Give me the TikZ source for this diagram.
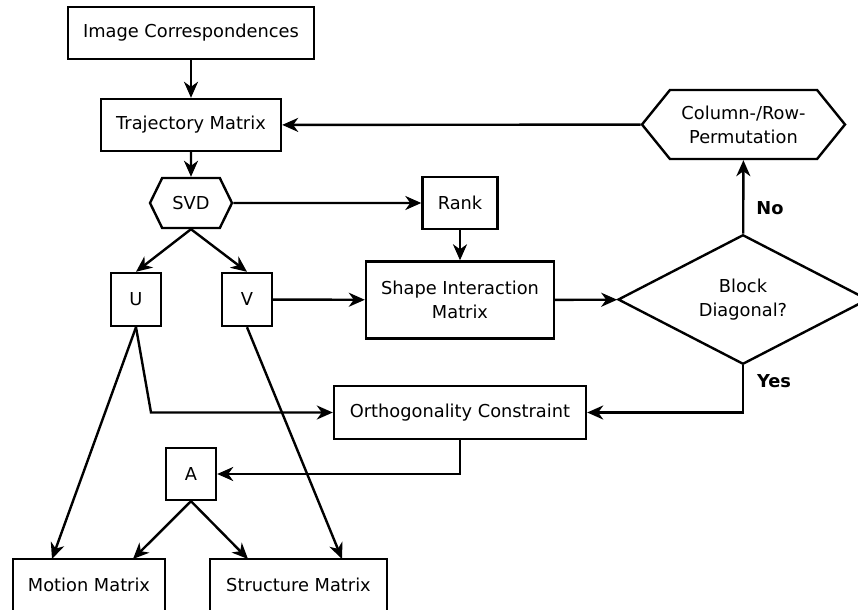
\documentclass[tikz,border=0pt]{standalone}
\usepackage{fontspec}
\setmainfont{DejaVu Sans}
\usetikzlibrary{shapes.geometric,shapes.symbols,arrows.meta}

\begin{document}
\begin{tikzpicture}[x=0.5pt,y=-0.5pt,
  font=\fontsize{8.9}{12}\selectfont,
  box/.style={draw,line width=1.2pt,inner sep=0pt,align=center},
  hexbox/.style={draw,line width=1.2pt,inner sep=0pt,align=center,signal,signal to=west and east},
  decision/.style={draw,line width=1.2pt,diamond,inner sep=0pt,align=center,minimum width=125pt,minimum height=61.5pt},
  flow/.style={line width=1.2pt,-{Stealth[length=8pt,width=7pt,inset=2.5pt]}},
  answer/.style={font=\fontsize{8.9}{12}\selectfont\bfseries}]
\useasboundingbox (0,0) rectangle (858,610);

\node[box,minimum width=123pt,minimum height=26pt] (imgcorr) at (191,33) {Image Correspondences};
\node[box,minimum width=90pt,minimum height=26pt] (traj) at (191,125) {Trajectory Matrix};
\node[hexbox,minimum width=41pt,minimum height=25pt,signal pointer angle=128] (svd) at (191,203) {SVD};
\node[box,minimum width=37.5pt,minimum height=26pt] (rank) at (460,203) {Rank};
\node[box,minimum width=94pt,minimum height=38.5pt] (shape) at (460,300) {Shape Interaction\\Matrix};
\node[decision] (blockdiag) at (743,299.5) {Block\\Diagonal?};
\node[hexbox,minimum width=101.5pt,minimum height=34.5pt,signal pointer angle=102] (perm) at (743.5,124.5) {Column-/Row-\\Permutation};
\node[box,minimum width=25pt,minimum height=26.5pt] (u) at (136,299.5) {U};
\node[box,minimum width=25pt,minimum height=26.5pt] (v) at (247,299.5) {V};
\node[box,minimum width=126pt,minimum height=26.5pt] (ortho) at (460,412.5) {Orthogonality Constraint};
\node[box,minimum width=25pt,minimum height=26pt] (a) at (191,474) {A};
\node[box,minimum width=76pt,minimum height=26pt] (motion) at (89,585) {Motion Matrix};
\node[box,minimum width=88.5pt,minimum height=26pt] (struct) at (298.5,585) {Structure Matrix};
\node[answer] (no) at (770,208) {No};
\node[answer] (yes) at (774,381) {Yes};

\coordinate (ubend) at (151,412.5);
\coordinate (umotion) at (52,559);
\coordinate (vstruct) at (342,559);
\coordinate (amotion) at (133,559);
\coordinate (astruct) at (248,559);

\draw[flow] (imgcorr) -- (traj);
\draw[flow] (traj) -- (svd);
\draw[flow] (perm) -- (traj);
\draw[flow] (svd) -- (rank);
\draw[flow] (rank) -- (shape);
\draw[flow] (svd.south) -- (u.north);
\draw[flow] (svd.south) -- (v.north);
\draw[flow] (v) -- (shape);
\draw[flow] (shape) -- (blockdiag);
\draw[flow] (blockdiag) -- (perm);
\draw[flow] (blockdiag.south) |- (ortho.east);
\draw[flow] (u.south) -- (ubend) -- (ortho.west);
\draw[flow] (u.south) -- (umotion);
\draw[flow] (v.south) -- (vstruct);
\draw[flow] (ortho.south) |- (a.east);
\draw[flow] (a.south) -- (amotion);
\draw[flow] (a.south) -- (astruct);
\end{tikzpicture}
\end{document}
